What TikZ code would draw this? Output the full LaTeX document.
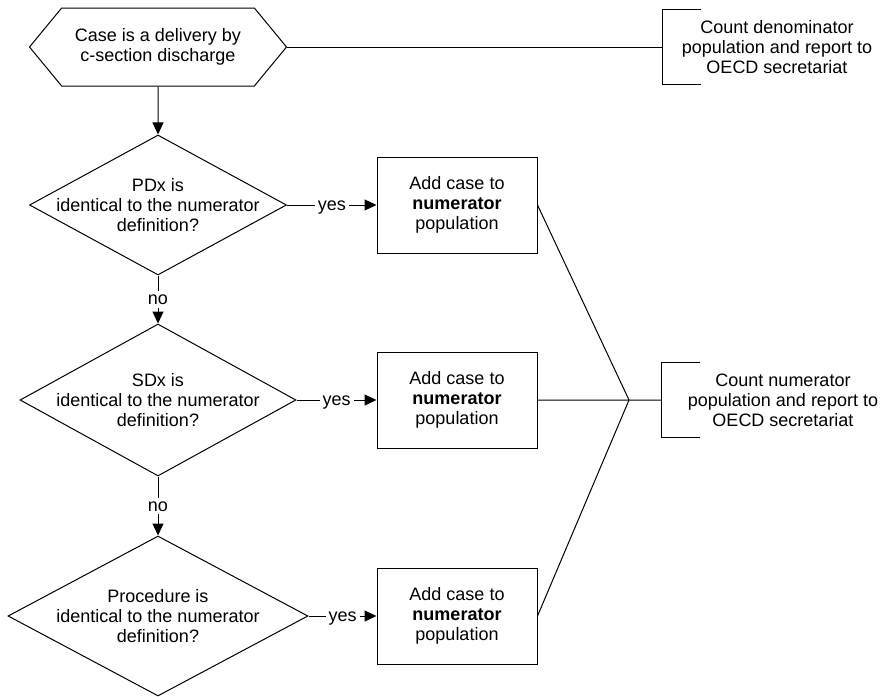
\documentclass[tikz,border=0pt]{standalone}
\usepackage{fontspec}
\setmainfont{Liberation Sans}
\usetikzlibrary{arrows.meta,shapes.geometric,shapes.symbols,positioning}

\begin{document}
\begin{tikzpicture}[x=0.5pt,y=-0.5pt,>={Triangle[length=6pt,width=5.5pt]},line width=0.5pt,
                    font=\fontsize{9}{10}\selectfont]
	  \tikzstyle{decision}=[diamond,draw,inner sep=0pt]
	  \tikzstyle{action}=[rectangle,draw,align=center,minimum width=80pt,minimum height=48pt]
	  \tikzstyle{report}=[align=center,minimum height=37pt]
	  \tikzstyle{answer}=[fill=white,inner sep=1.5pt,text height=1ex,text depth=0pt]

	  \useasboundingbox (0,0) rectangle (883,696);

	  \node[signal,signal to=west and east,signal pointer angle=101,draw,align=center,
	        minimum width=128.5pt,minimum height=39pt] (start) at (158,47) {Case is a delivery by\\c-section discharge};

	  \node[decision,minimum width=128.5pt,minimum height=70pt,
	        label={[align=center]center:PDx is\\identical to the numerator\\definition?}] (pdx) at (158,205) {};
	  \node[decision,minimum width=138pt,minimum height=76pt,
	        label={[align=center]center:SDx is\\identical to the numerator\\definition?}] (sdx) at (158,400) {};
	  \node[decision,minimum width=150pt,minimum height=80pt,
	        label={[align=center]center:Procedure is\\identical to the numerator\\definition?}] (proc) at (158,616) {};

	  \node[action] (add1) at (457,205) {Add case to\\\textbf{numerator}\\population};
	  \node[action] (add2) at (457,400) {Add case to\\\textbf{numerator}\\population};
	  \node[action] (add3) at (457,616) {Add case to\\\textbf{numerator}\\population};

	  \node[report,minimum width=114pt] (denom) at (777,47) {Count denominator\\population and report to\\OECD secretariat};
	  \node[report,minimum width=121pt] (numer) at (783,400) {Count numerator\\population and report to\\OECD secretariat};
	  \coordinate (merge) at (629,400);

	  % brackets of the two reports
	  \draw ([xshift=19pt]denom.north west) -- (denom.north west) -- (denom.south west) -- ([xshift=19pt]denom.south west);
	  \draw ([xshift=19pt]numer.north west) -- (numer.north west) -- (numer.south west) -- ([xshift=19pt]numer.south west);

	  \draw[->] (start) -- (pdx);
	  \draw (start.east) -- (denom.west);

	  \path[->] (pdx) edge node[answer] {yes} (add1)
	  edge node[answer] {no} (sdx)
	  (sdx) edge node[answer] {yes} (add2)
	  edge node[answer] {no} (proc)
	  (proc) edge node[answer] {yes} (add3);

	  \draw (add1.east) -- (merge) (add2.east) -- (merge) (add3.east) -- (merge) -- (numer.west);
\end{tikzpicture}
\end{document}
